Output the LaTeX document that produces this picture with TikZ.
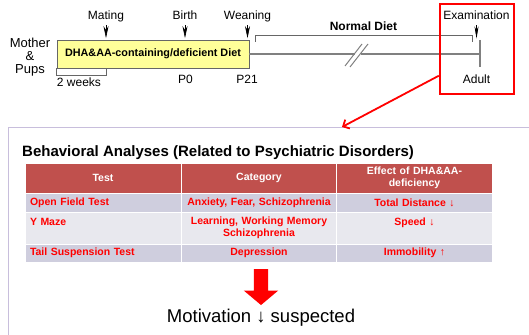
\documentclass[tikz,border=0pt]{standalone}
\usepackage{fontspec}
\setmainfont{Liberation Sans}
\usepackage{tikz}
\usetikzlibrary{arrows.meta, calc, positioning, shapes.arrows}
\definecolor{headred}{RGB}{192,80,77}
\definecolor{rowdark}{RGB}{207,206,222}
\definecolor{rowlight}{RGB}{232,232,238}
\definecolor{dietyellow}{RGB}{255,255,153}
\definecolor{panelline}{RGB}{200,190,220}
\definecolor{timegray}{RGB}{128,128,128}

\begin{document}
\begin{tikzpicture}[x=1pt,y=-1pt,
		lbl/.style={font=\fontsize{12}{14}\selectfont, inner sep=0.5pt, text height=8.6pt, text depth=2.5pt},
		tick/.style={-{Stealth[length=12pt,width=5pt]}, line width=0.6pt, shorten <=2.5pt, shorten >=1.5pt},
		bracket/.style={draw=black!60, line width=0.8pt},
		timeline/.style={draw=timegray, line width=1.2pt},
		cell/.style={draw=white, line width=0.8pt, minimum width=156pt, text width=146pt, inner xsep=5pt, inner ysep=1pt, align=center, text=red, font=\fontsize{10.5}{12.3}\selectfont\bfseries},
		head/.style={cell, fill=headred, text=white, minimum height=30pt},
		rowa/.style={cell, fill=rowdark},
		rowb/.style={cell, fill=rowlight}]
		\useasboundingbox (0,0) rectangle (529,334);

		% time line
		\node(who)  [align=center, font=\fontsize{13}{13.3}\selectfont, inner sep=0pt] at (30,57)  {Mother\\\&\\Pups};
		\node(diet)  [draw=black!60, fill=dietyellow, line width=0.8pt, minimum width=192pt, minimum height=28pt, font=\fontsize{10.8}{13}\selectfont\bfseries] at (153,54)  {DHA\&AA-containing/deficient Diet};

		\node(mating)  [lbl] at (106,16.3)  {Mating};
		\node(birth)  [lbl] at (185,16.3)  {Birth};
		\node(weaning)  [lbl] at (247.5,16.3)  {Weaning};
		\node(exam)  [lbl] at (476.5,16.3)  {Examination};

		\node(pzero)  [lbl] at (185.5,80.3)  {P0};
		\node(ptwone)  [lbl] at (247,80.3)  {P21};
		\node(adult)  [lbl] at (476.5,80.3)  {Adult};
		\node(weeks)  [lbl] at (79,83.6)  {2 weeks};
		\node(normal)  [lbl, font=\fontsize{12}{14}\selectfont\bfseries] at (363.5,27)  {Normal Diet};

		\coordinate (brkleft) at (354.5,54);
		\coordinate (brkright) at (361,54);
		\coordinate (endtop) at (480,40);
		\coordinate (endbot) at (480,67);

		\draw[timeline] (diet.east) -- (brkleft) (brkright) -- (brkright -| endtop);
		\draw[timeline] (endtop) -- (endbot);
		\draw[timeline, line width=1pt] (345,66) -- (362,44) (350,67) -- (368,44);

		\draw[tick] (mating) -- (mating |- diet.north);
		\draw[tick] (birth) -- (birth |- diet.north);
		\draw[tick] (weaning) -- (weaning |- diet.north);
		\draw[tick, -{Stealth[length=12pt,width=4pt]}] (exam) -- (exam |- endtop);

		\draw[bracket] (diet.south west) -- ++(0,7) -| (mating |- diet.south);
		\draw[bracket] (255,42) |- (472,35) -- (472,42);

		\node(exambox)  [draw=red, line width=2.3pt, minimum width=74pt, minimum height=90pt] at (477,49)  {};

		% behavioral analyses
		\draw[panelline, line width=1pt] (8,340) |- (535,127);
		\coordinate (paneltip) at (342,127);
		\draw[-{Straight Barb[length=5pt,width=10pt]}, red, line width=1.8pt] (exambox.215) -- (paneltip);

		\node(title)  [anchor=base west, inner sep=0pt, font=\fontsize{15}{18}\selectfont\bfseries] at (22,156)  {Behavioral Analyses (Related to Psychiatric Disorders)};

		\node(htest)  [head] at (103,178)  {Test};
		\node(hcat)  [head] at (259,178)  {Category};
		\node(heff)  [head] at (414.5,178)  {Effect of DHA\&AA-\\deficiency};

		\node(test1)  [rowa, minimum height=19pt, align=left] at (103,202.5)  {Open Field Test};
		\node(cat1)  [rowa, minimum height=19pt] at (259,202.5)  {Anxiety, Fear, Schizophrenia};
		\node(eff1)  [rowa, minimum height=19pt] at (414.5,202.5)  {Total Distance ↓};

		\node(test2)  [rowb, minimum height=32pt, align=left] at (103,228)  {Y Maze\\\mbox{}};
		\node(cat2)  [rowb, minimum height=32pt] at (259,228)  {Learning, Working Memory\\Schizophrenia};
		\node(eff2)  [rowb, minimum height=32pt] at (414.5,228)  {Speed ↓\\\mbox{}};

		\node(test3)  [rowa, minimum height=18pt, align=left] at (103,253)  {Tail Suspension Test};
		\node(cat3)  [rowa, minimum height=18pt] at (259,253)  {Depression};
		\node(eff3)  [rowa, minimum height=18pt] at (414.5,253)  {Immobility ↑};

		\node(down)  [single arrow, fill=red, rotate=-90, inner sep=7pt, single arrow head extend=10pt, single arrow tip angle=100, minimum height=36pt] at (261,284)  {};
		\node(motiv)  [font=\fontsize{18.5}{22}\selectfont] at (261,318)  {Motivation ↓ suspected};

		\end{tikzpicture}
\end{document}
